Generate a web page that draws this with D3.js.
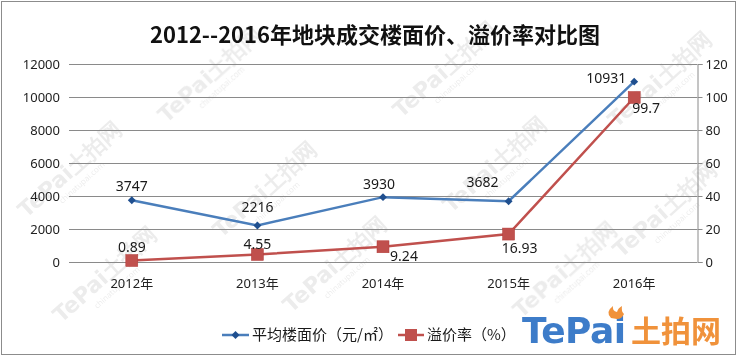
<!DOCTYPE html>
<html><head><meta charset="utf-8">
<script src="https://cdn.jsdelivr.net/npm/d3@7"></script>
<style>body{margin:0;background:#fff}svg{display:block}</style>
</head><body><svg id="c" width="738" height="360"></svg>
<script>
const title = "2012--2016年地块成交楼面价、溢价率对比图";
const categories = ["2012年","2013年","2014年","2015年","2016年"];
const priceValues = [3747, 2216, 3930, 3682, 10931];
const premiumValues = [0.89, 4.55, 9.24, 16.93, 99.7];
const leftTicks = [0,2000,4000,6000,8000,10000,12000];
const rightTicks = [0,20,40,60,80,100,120];
const seriesNames = ["平均楼面价（元/㎡）","溢价率（%）"];
// label placement offsets (dx, dy) relative to each point
const priceLabelPos = [[0,-14],[0,-18],[-4,-13],[-26,-19],[-28,-4]];
const premiumLabelPos = [[0,-13],[0,-10],[21,9],[11,14],[12,11]];

const svg = d3.select("#c");
const font = "'Noto Sans','Noto Sans CJK SC',sans-serif";
const m={l:69,r:697,t:64,b:262};

svg.append("rect").attr("x",1.5).attr("y",1.5).attr("width",734).attr("height",353)
  .attr("fill","#fff").attr("stroke","#8c8c8c").attr("stroke-width",1);

// watermarks (kept fully inside the frame)
const wm = svg.append("g").attr("opacity",0.11);
const wmPos=[[215,80],[450,75],[665,85],[75,175],[270,195],[500,170],[670,215],[110,280],[340,270],[570,275]];
wmPos.forEach(p=>{
  const g=wm.append("g").attr("transform",`translate(${p[0]},${p[1]}) rotate(-42)`);
  g.append("text").attr("text-anchor","middle").attr("font-family","'DejaVu Sans',sans-serif")
   .attr("font-weight","bold").attr("font-size",22).attr("fill","#555").text("TePai土拍网");
  g.append("text").attr("text-anchor","middle").attr("y",13).attr("font-family",font)
   .attr("font-size",8).attr("fill","#555").text("chinatupai.com");
});

const x = d3.scaleBand().domain(categories).range([m.l,m.r]);
const yL = d3.scaleLinear().domain([0,12000]).range([m.b,m.t]);
const yR = d3.scaleLinear().domain([0,120]).range([m.b,m.t]);

// gridlines
svg.append("g").selectAll("line").data(leftTicks).join("line")
  .attr("x1",m.l).attr("x2",m.r).attr("y1",d=>Math.round(yL(d))+0.5).attr("y2",d=>Math.round(yL(d))+0.5)
  .attr("stroke","#8a8a8a").attr("stroke-width",1);

// left axis labels
svg.append("g").selectAll("text").data(leftTicks).join("text")
  .attr("x",60).attr("y",d=>yL(d)).attr("dy","0.35em").attr("text-anchor","end")
  .attr("font-family",font).attr("font-size",13).attr("fill","#222").text(d=>d);

// right axis
const ra = svg.append("g").attr("transform",`translate(${m.r+0.5},0)`)
  .call(d3.axisRight(yR).tickValues(rightTicks).tickSize(5).tickPadding(3));
ra.select(".domain").attr("stroke","#8a8a8a");
ra.selectAll(".tick line").attr("stroke","#8a8a8a");
ra.selectAll("text").attr("font-family",font).attr("font-size",13).attr("fill","#222");

// x axis labels
svg.append("g").selectAll("text").data(categories).join("text")
  .attr("x",d=>x(d)+x.bandwidth()/2).attr("y",283).attr("dy","0.35em").attr("text-anchor","middle")
  .attr("font-family",font).attr("font-size",13).attr("fill","#222").text(d=>d);

const cx = (i)=>x(categories[i])+x.bandwidth()/2;
const blue="#4a7ebb", blueDark="#1f4f8f", red="#c0504d";

// premium line
svg.append("path").datum(premiumValues)
  .attr("d",d3.line().x((d,i)=>cx(i)).y(d=>yR(d)))
  .attr("fill","none").attr("stroke",red).attr("stroke-width",2.5);
svg.append("g").selectAll("rect").data(premiumValues).join("rect")
  .attr("x",(d,i)=>cx(i)-6).attr("y",d=>yR(d)-6).attr("width",12).attr("height",12)
  .attr("fill",red).attr("stroke","#b23b38").attr("stroke-width",0.5);

// price line
svg.append("path").datum(priceValues)
  .attr("d",d3.line().x((d,i)=>cx(i)).y(d=>yL(d)))
  .attr("fill","none").attr("stroke",blue).attr("stroke-width",2.5);
svg.append("g").selectAll("path.mk").data(priceValues).join("path")
  .attr("transform",(d,i)=>`translate(${cx(i)},${yL(d)})`)
  .attr("d",d3.symbol(d3.symbolDiamond2,40)).attr("fill",blueDark);

// data labels
svg.append("g").selectAll("text").data(priceValues).join("text")
  .attr("x",(d,i)=>cx(i)+priceLabelPos[i][0]).attr("y",(d,i)=>yL(d)+priceLabelPos[i][1])
  .attr("dy","0.35em").attr("text-anchor","middle").attr("font-family",font)
  .attr("font-size",14).attr("fill","#1a1a1a").text(d=>d);
svg.append("g").selectAll("text").data(premiumValues).join("text")
  .attr("x",(d,i)=>cx(i)+premiumLabelPos[i][0]).attr("y",(d,i)=>yR(d)+premiumLabelPos[i][1])
  .attr("dy","0.35em").attr("text-anchor","middle").attr("font-family",font)
  .attr("font-size",14).attr("fill","#1a1a1a").text(d=>d);

// title
svg.append("text").attr("x",375).attr("y",35).attr("dy","0.35em").attr("text-anchor","middle")
  .attr("font-family","'Noto Sans CJK SC',sans-serif").attr("font-weight","bold")
  .attr("font-size",22).attr("fill","#111").text(title);

// legend
const lg = svg.append("g");
lg.append("line").attr("x1",222).attr("x2",249).attr("y1",335).attr("y2",335).attr("stroke",blue).attr("stroke-width",2.5);
lg.append("path").attr("transform","translate(235.5,335)").attr("d",d3.symbol(d3.symbolDiamond2,40)).attr("fill",blueDark);
lg.append("text").attr("x",252).attr("y",335).attr("dy","0.35em").attr("font-family","'Noto Sans CJK SC',sans-serif")
  .attr("font-size",15).attr("fill","#1a1a1a").text(seriesNames[0]);
lg.append("line").attr("x1",398).attr("x2",424).attr("y1",335).attr("y2",335).attr("stroke",red).attr("stroke-width",2.5);
lg.append("rect").attr("x",405).attr("y",329).attr("width",12).attr("height",12).attr("fill",red);
lg.append("text").attr("x",427).attr("y",335).attr("dy","0.35em").attr("font-family","'Noto Sans CJK SC',sans-serif")
  .attr("font-size",15).attr("fill","#1a1a1a").text(seriesNames[1]);

// logo
const logo = svg.append("g");
logo.append("text").attr("x",522).attr("y",343).attr("font-family","'DejaVu Sans',sans-serif")
  .attr("font-weight","bold").attr("font-size",36).attr("fill","#3d7cc9").attr("textLength",104).text("TePai");
logo.append("text").attr("x",631).attr("y",342).attr("font-family","'Noto Sans CJK SC',sans-serif")
  .attr("font-weight","bold").attr("font-size",30).attr("fill","#f0923b").text("土拍网");
logo.append("path").attr("d","M611,318 q-6,-6 2,-12 q-1,5 4,6 q1,-4 5,-6 q-1,5 2,8 q-2,5 -7,5 z").attr("fill","#f0923b");
</script></body></html>
